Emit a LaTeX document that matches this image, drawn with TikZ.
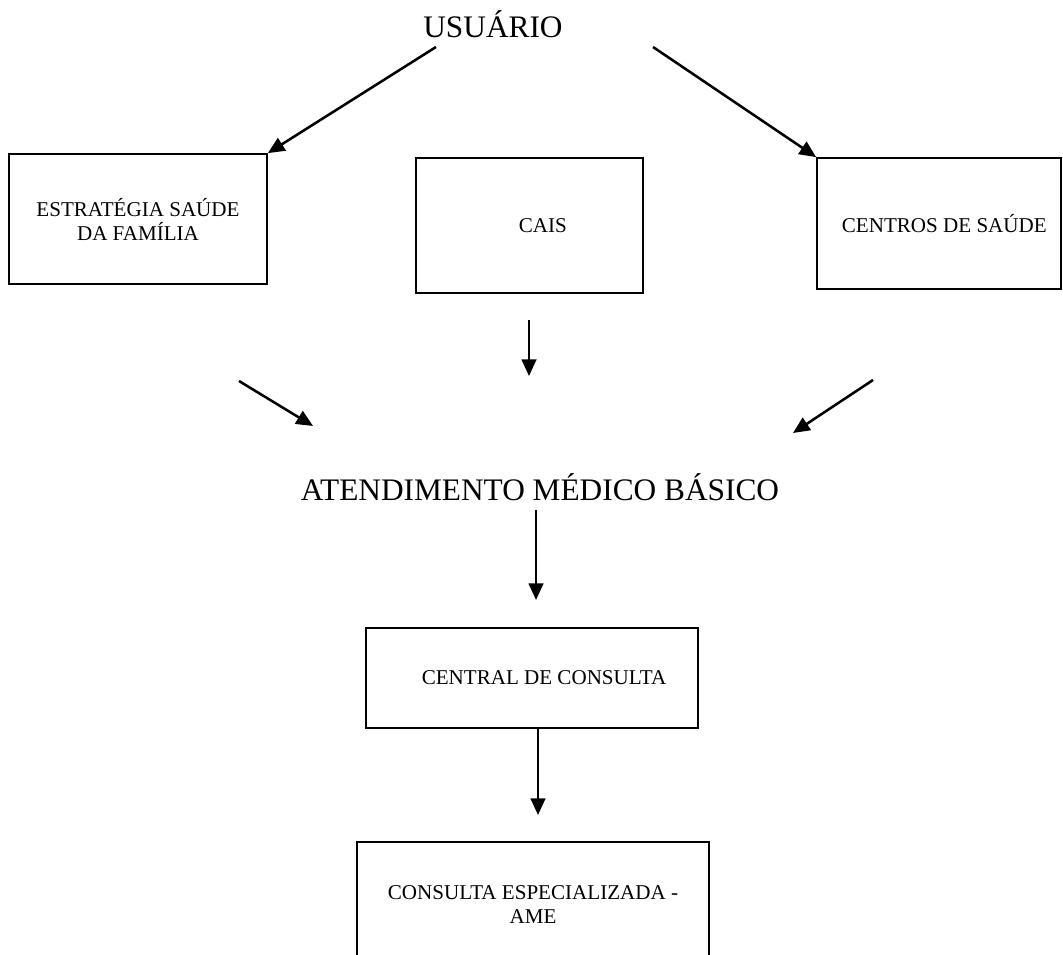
\documentclass[tikz,border=0pt]{standalone}
\usepackage{fontspec}
\setmainfont{Liberation Serif}
\usetikzlibrary{arrows.meta,calc}
\begin{document}
\begin{tikzpicture}[x=0.75pt,y=-0.75pt,
  box/.style={draw,line width=1.3pt,inner sep=0pt,align=center,
    font=\fontsize{15.8pt}{18pt}\selectfont},
  big/.style={inner sep=0pt,font=\fontsize{23.5pt}{28pt}\selectfont},
  arr/.style={line width=1.9pt,-{Triangle[length=12.5pt,width=11pt]}}]
\clip (0,0) rectangle (1063,955);
\fill[white] (0,0) rectangle (1063,955);

\node[big,anchor=base] (usuario) at (493,38) {USUÁRIO};
\node[box,minimum width=193.5pt,minimum height=97.5pt] (esf) at (138,219) {ESTRATÉGIA SAÚDE\\DA FAMÍLIA};
\node[box,minimum width=170.25pt,minimum height=101.25pt] (cais) at (529.5,225.5) {\hspace*{20pt}CAIS};
\node[box,minimum width=183pt,minimum height=98.25pt] (centros) at (939,223.5) {\hspace*{8pt}CENTROS DE SAÚDE};
\node[big,anchor=base] (atend) at (540,500) {ATENDIMENTO MÉDICO BÁSICO};
\node[box,minimum width=249pt,minimum height=75pt] (central) at (532,678) {\hspace*{18pt}CENTRAL DE CONSULTA};
\node[box,minimum width=264pt,minimum height=94.5pt] (ame) at (533,905) {CONSULTA ESPECIALIZADA -\\AME};

\coordinate (u1) at (436,47);
\coordinate (u2) at (653,47);
\coordinate (c1) at (529,320);
\coordinate (c2) at (529,376);
\coordinate (l1) at (239,381);
\coordinate (l2) at (313,426);
\coordinate (r1) at (873,380);
\coordinate (r2) at (793,433);
\coordinate (a1) at (536,510);
\coordinate (a2) at (536,600);
\coordinate (b2) at (538,815);

\draw[arr] (u1) -- (esf.north east);
\draw[arr] (u2) -- (centros.north west);
\draw[arr] (c1) -- (c2);
\draw[arr] (l1) -- (l2);
\draw[arr] (r1) -- (r2);
\draw[arr] (a1) -- (a2);
\draw[arr] (central.south -| b2) -- (b2);
\end{tikzpicture}
\end{document}
